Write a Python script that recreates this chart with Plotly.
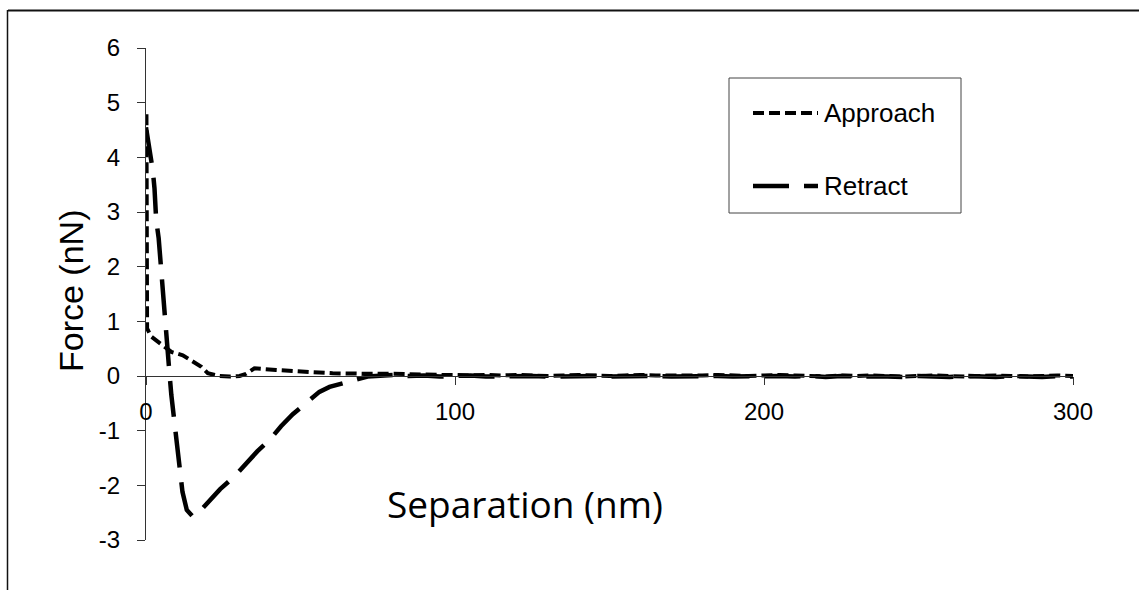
import plotly.graph_objects as go

# ---------------- data ----------------
approach_x = [0.15, 0.25, 0.3, 0.35, 1.7, 4.4, 8.2, 11.9, 15.7, 17.9, 20, 23.8, 27, 30.3,
              32.4, 35.1, 42.1, 48.6, 53.9, 60.4, 66.8, 73.3,
              80, 85, 90, 95, 100, 105, 110, 115, 120, 125, 130, 135, 140, 145, 150,
              155, 160, 165, 170, 175, 180, 185, 190, 195, 200, 205, 210, 215, 220,
              225, 230, 235, 240, 245, 250, 255, 260, 265, 270, 275, 280, 285, 290,
              295, 300]
approach_y = [4.79, 3.6, 2.2, 0.87, 0.72, 0.6, 0.44, 0.38, 0.26, 0.17, 0.05, 0.0, -0.01, 0.0,
              0.04, 0.14, 0.11, 0.08, 0.07, 0.05, 0.04, 0.04,
              0.04, 0.03, 0.03, 0.02, 0.02, 0.01, 0.02, 0.01, 0.02, 0.01, 0.0, 0.01, 0.02, 0.01, 0.0,
              0.01, 0.02, 0.01, 0.01, 0.0, 0.01, 0.02, 0.01, 0.0, 0.01, 0.02, 0.01, 0.0, -0.01,
              0.01, 0.0, 0.01, 0.0, -0.01, 0.0, 0.01, 0.0, -0.01, 0.0, 0.01, 0.0, -0.01, 0.0,
              0.01, 0.0]

retract_x = [0, 0.6, 2.2, 2.75, 3.3, 4.1, 4.9, 5.45, 6.3, 6.7, 7.6, 8.2, 9.3, 10.5, 11.8,
             13.2, 15.1, 17, 19.9, 24, 28.6, 32.4, 36, 40, 43.7, 47.5, 51.8, 56.1, 59.4,
             62.5, 66.4, 71.7,
             75, 80, 85, 90, 95, 100, 105, 110, 115, 120, 125, 130, 135, 140, 145, 150,
             155, 160, 165, 170, 175, 180, 185, 190, 195, 200, 205, 210, 215, 220,
             225, 230, 235, 240, 245, 250, 255, 260, 265, 270, 275, 280, 285, 290,
             295, 300]
retract_y = [4.55, 4.34, 3.76, 3.43, 2.85, 2.52, 1.9, 1.6, 0.99, 0.69, 0.05, -0.35, -0.9, -1.5, -2.12,
             -2.45, -2.57, -2.5, -2.32, -2.07, -1.84, -1.59, -1.38, -1.17, -0.92, -0.7, -0.5, -0.29, -0.2,
             -0.16, -0.09, -0.01,
             0.01, 0.02, 0.0, 0.01, -0.01, 0.0, 0.01, -0.01, 0.0, 0.01, 0.0, -0.01, 0.0, 0.01, 0.0, -0.01,
             0.0, 0.01, 0.0, -0.01, 0.0, 0.01, 0.0, -0.01, 0.0, 0.01, 0.0, -0.01, 0.0, -0.02,
             0.0, -0.01, 0.0, -0.01, -0.02, 0.0, -0.01, -0.02, 0.0, -0.01, -0.02, 0.0, -0.01, -0.02,
             0.0, -0.01]

series_names = ["Approach", "Retract"]
x_tick_vals = [0, 100, 200, 300]
x_tick_labels = ["0", "100", "200", "300"]
y_tick_vals = [-3, -2, -1, 0, 1, 2, 3, 4, 5, 6]
y_tick_labels = ["-3", "-2", "-1", "0", "1", "2", "3", "4", "5", "6"]
x_title = "Separation (nm)"
y_title = "Force (nN)"

# ---------------- layout geometry ----------------
W, H = 1139, 590
ML, MR, MT, MB = 146, 66, 48, 50
PW, PH = W - ML - MR, H - MT - MB


def px(xp):
    return (xp - ML) / PW


def py(yp):
    return (H - MB - yp) / PH


APP_DASH = "11px,5px"
RET_DASH = "36px,15px"
FONT = "Arial, Liberation Sans, sans-serif"

fig = go.Figure()
fig.add_trace(go.Scatter(x=approach_x, y=approach_y, mode="lines", name=series_names[0],
                         line=dict(color="black", width=4, dash=APP_DASH),
                         cliponaxis=False, showlegend=False))
fig.add_trace(go.Scatter(x=retract_x, y=retract_y, mode="lines", name=series_names[1],
                         line=dict(color="black", width=4.5, dash=RET_DASH),
                         cliponaxis=False, showlegend=False))

fig.update_layout(
    width=W, height=H,
    margin=dict(l=ML, r=MR, t=MT, b=MB, pad=0),
    paper_bgcolor="white", plot_bgcolor="white",
    font=dict(family=FONT, color="black"),
    xaxis=dict(range=[0, 300], tickvals=x_tick_vals, ticktext=x_tick_labels,
               anchor="free", position=1 / 3, showgrid=False, zeroline=False,
               showline=True, linecolor="#333", linewidth=1,
               ticks="outside", ticklen=8, tickcolor="#333", tickwidth=1,
               tickfont=dict(size=24, family=FONT, color="black"),
               ticklabelstandoff=6),
    yaxis=dict(range=[-3, 6], tickvals=y_tick_vals, ticktext=y_tick_labels,
               showgrid=False, zeroline=False,
               showline=True, linecolor="#333", linewidth=1,
               ticks="outside", ticklen=8, tickcolor="#333", tickwidth=1,
               tickfont=dict(size=24, family=FONT, color="black"),
               ticklabelstandoff=12),
    showlegend=False,
)

shapes = [
    # outer frame (cropped at right and bottom)
    dict(type="line", xref="paper", yref="paper", x0=px(8), x1=px(1150), y0=py(10.5), y1=py(10.5),
         line=dict(color="#111", width=2)),
    dict(type="line", xref="paper", yref="paper", x0=px(7.5), x1=px(7.5), y0=py(10), y1=py(600),
         line=dict(color="#111", width=1.5)),
    # legend box
    dict(type="rect", xref="paper", yref="paper", x0=px(729), x1=px(961), y0=py(213), y1=py(78),
         line=dict(color="#444", width=1), fillcolor="white", layer="below"),
    # legend samples
    dict(type="line", xref="paper", yref="paper", x0=px(753), x1=px(818), y0=py(113), y1=py(113),
         line=dict(color="black", width=4, dash=APP_DASH)),
    dict(type="line", xref="paper", yref="paper", x0=px(753), x1=px(818), y0=py(186), y1=py(186),
         line=dict(color="black", width=4.5, dash=RET_DASH)),
]

annotations = [
    dict(text=series_names[0], xref="paper", yref="paper", x=px(822), y=py(113),
         xanchor="left", yanchor="middle", showarrow=False,
         font=dict(size=26, family=FONT, color="black")),
    dict(text=series_names[1], xref="paper", yref="paper", x=px(822), y=py(186),
         xanchor="left", yanchor="middle", showarrow=False,
         font=dict(size=26, family=FONT, color="black")),
    dict(text=x_title, xref="paper", yref="paper", x=px(525), y=py(503),
         xanchor="center", yanchor="middle", showarrow=False,
         font=dict(size=37, family="Open Sans, sans-serif", color="black")),
    dict(text=y_title, xref="paper", yref="paper", x=px(71), y=py(291),
         xanchor="center", yanchor="middle", showarrow=False, textangle=-90,
         font=dict(size=34, family=FONT, color="black")),
]

fig.update_layout(shapes=shapes, annotations=annotations)
fig.write_html("out.html")
